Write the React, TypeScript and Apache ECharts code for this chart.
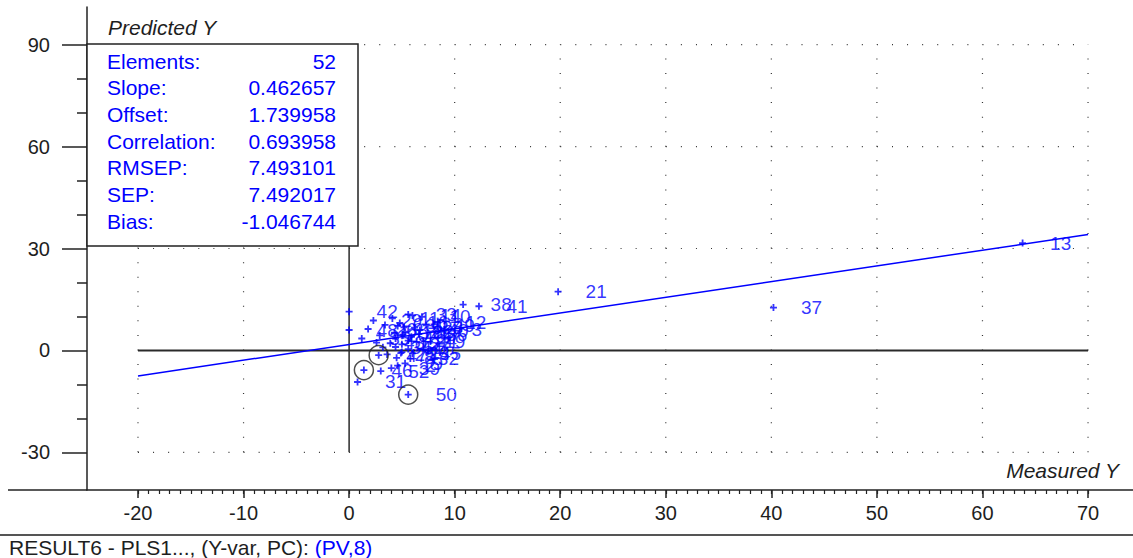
import React, { useEffect, useRef } from "react";
import * as echarts from "echarts";

const FONT = "'Liberation Sans', Arial, sans-serif";
const BLUE = "#0000ff";
const INK = "#1e1e1e";

// Sample numbers with measured / predicted values
const SAMPLE_IDS = [
  1, 2, 3, 4, 5, 6, 7, 8, 9, 10, 11, 12, 13, 14, 15, 16, 17, 18, 19, 20, 21, 22, 23, 24, 25, 26,
  27, 28, 29, 30, 31, 32, 33, 34, 35, 36, 37, 38, 39, 40, 41, 42, 43, 44, 45, 46, 47, 48, 49, 50, 51, 52,
];
const MEASURED = [
  5.0, 4.6, 9.0, 4.4, 5.2, 3.4, 5.6, 4.5, 5.3, 6.9, 4.1, 8.4, 63.8, 6.0, 3.9, 4.8, 5.9, 4.3, 6.4, 2.9,
  19.8, 5.3, 4.9, 5.6, 3.6, 1.8, 5.0, 6.2, 2.3, 4.6, 0.8, 5.8, 5.6, 3.2, 1.2, 6.6, 40.2, 10.8, 4.0, 6.7,
  12.3, 0.0, 2.6, 5.1, 6.0, 1.4, 2.8, 0.0, 7.3, 5.6, 4.4, 3.0,
];
const PREDICTED = [
  -0.5, -4.5, 6.2, 3.5, 6.8, 7.5, 0.4, -2.2, -3.8, 9.9, 9.4, 8.2, 31.6, 10.3, 2.1, 8.1, 4.0, 5.2, 2.5, 4.4,
  17.3, 5.5, -0.8, 2.9, -1.2, 6.3, 1.8, 6.7, 8.8, 7.2, -9.3, -2.4, 10.6, 0.9, 3.5, 4.8, 12.6, 13.5, -5.2, 6.0,
  13.0, 11.4, 2.3, 4.6, -0.9, -5.8, -1.4, 6.0, 7.4, -13.0, 1.0, -6.1,
];
const CIRCLED_IDS = [46, 47, 50];

// Regression summary
const SLOPE = 0.462657;
const OFFSET = 1.739958;
const STAT_NAMES = ["Elements:", "Slope:", "Offset:", "Correlation:", "RMSEP:", "SEP:", "Bias:"];
const STAT_VALUES = ["52", "0.462657", "1.739958", "0.693958", "7.493101", "7.492017", "-1.046744"];

// Axis ticks and reference lines
const X_LABELS = [-20, -10, 0, 10, 20, 30, 40, 50, 60, 70];
const Y_LABELS = [-30, 0, 30, 60, 90];
const Y_MINOR = [-20, -10, 10, 20, 40, 50, 70, 80];
const X_GRID = [-20, -10, 10, 20, 30, 40, 50, 60, 70];
const Y_GRID = [-30, 30, 60, 90];
const X_MIN = -24.83;
const X_MAX = 74.26;
const Y_MIN = -41.1;
const Y_MAX = 101.1;

const PLUS = "path://M2.6,0H4.4V2.6H7V4.4H4.4V7H2.6V4.4H0V2.6H2.6Z";

function App() {
  const ref = useRef<HTMLDivElement>(null);

  useEffect(() => {
    if (!ref.current) return;
    const chart = echarts.init(ref.current, null, { renderer: "svg" });

    const xMinor: number[] = [];
    for (let v = X_LABELS[0]; v <= X_LABELS[X_LABELS.length - 1]; v++) xMinor.push(v);

    const points = SAMPLE_IDS.map((id, i) => ({ name: String(id), value: [MEASURED[i], PREDICTED[i]] }));
    const circled = CIRCLED_IDS.map((id) => {
      const i = SAMPLE_IDS.indexOf(id);
      return [MEASURED[i], PREDICTED[i]];
    });

    const gx0 = X_LABELS[0];
    const gx1 = X_LABELS[X_LABELS.length - 1];
    const gy0 = Y_LABELS[0];
    const gy1 = Y_LABELS[Y_LABELS.length - 1];

    const dotted = (data: number[][], gap: number) => ({
      type: "line",
      data,
      symbol: "none",
      silent: true,
      z: 1,
      lineStyle: { color: "#333", width: 1.2, type: [1, gap], cap: "butt" },
    });

    const series: any[] = [];
    X_GRID.forEach((x) => series.push(dotted([[x, gy0], [x, gy1]], 13.55)));
    Y_GRID.forEach((y) => series.push(dotted([[gx0, y], [gx1, y]], 14.08)));
    series.push({
      type: "line",
      data: [[gx0, 0], [gx1, 0]],
      symbol: "none",
      silent: true,
      z: 2,
      lineStyle: { color: "#2a2a2a", width: 2 },
    });
    series.push({
      type: "line",
      data: [[0, gy0], [0, gy1]],
      symbol: "none",
      silent: true,
      z: 2,
      lineStyle: { color: "#2a2a2a", width: 1.5 },
    });
    series.push({
      type: "line",
      data: [
        [gx0, OFFSET + SLOPE * gx0],
        [gx1, OFFSET + SLOPE * gx1],
      ],
      symbol: "none",
      silent: true,
      z: 3,
      lineStyle: { color: BLUE, width: 1.5 },
    });
    series.push({
      type: "scatter",
      data: points,
      symbol: PLUS,
      symbolSize: 7,
      z: 4,
      itemStyle: { color: BLUE },
      label: {
        show: true,
        position: "right",
        distance: 24,
        formatter: (p: any) => p.name,
        color: BLUE,
        fontSize: 19,
        fontFamily: FONT,
      },
      labelLayout: { hideOverlap: false },
    });
    series.push({
      type: "scatter",
      data: circled,
      symbol: "circle",
      symbolSize: 19,
      z: 5,
      itemStyle: { color: "rgba(0,0,0,0)", borderColor: "#222", borderWidth: 1.5 },
    });

    const axisText = { color: INK, fontSize: 20, fontFamily: FONT };
    const axisLineStyle = { color: "#222", width: 1.5 };

    const textStyle = (text: string, x: number, y: number, opts: any = {}) => ({
      type: "text",
      z: 101,
      silent: true,
      style: {
        text,
        x,
        y,
        fill: opts.fill || INK,
        font: `${opts.italic ? "italic " : ""}${opts.size || 21}px ${FONT}`,
        textAlign: opts.align || "left",
        align: opts.align || "left",
        textVerticalAlign: "middle",
        verticalAlign: "middle",
      },
    });

    const rowY = (i: number) => 61 + i * 26.7;
    const statTexts: any[] = [];
    STAT_NAMES.forEach((n, i) => {
      statTexts.push(textStyle(n, 107, rowY(i), { fill: BLUE }));
      statTexts.push(textStyle(STAT_VALUES[i], 336, rowY(i), { fill: BLUE, align: "right" }));
    });

    chart.setOption({
      animation: false,
      backgroundColor: "#ffffff",
      grid: { left: 87, top: 7, width: 1046, height: 483, containLabel: false },
      xAxis: [
        {
          type: "value",
          min: X_MIN,
          max: X_MAX,
          position: "bottom",
          axisLine: { show: true, onZero: false, lineStyle: axisLineStyle },
          axisTick: { show: true, customValues: X_LABELS, length: 8, lineStyle: { color: "#222", width: 1.5 } },
          axisLabel: { show: true, customValues: X_LABELS, margin: 13, ...axisText },
          splitLine: { show: false },
        },
        {
          type: "value",
          min: X_MIN,
          max: X_MAX,
          position: "bottom",
          axisLine: { show: false, onZero: false },
          axisTick: { show: true, customValues: xMinor, length: 4, lineStyle: { color: "#222", width: 1.2 } },
          axisLabel: { show: false },
          splitLine: { show: false },
        },
      ],
      yAxis: [
        {
          type: "value",
          min: Y_MIN,
          max: Y_MAX,
          position: "left",
          axisLine: { show: true, onZero: false, lineStyle: axisLineStyle },
          axisTick: { show: true, customValues: Y_LABELS, length: 25, lineStyle: { color: "#222", width: 1.5 } },
          axisLabel: { show: true, customValues: Y_LABELS, margin: 37, ...axisText },
          splitLine: { show: false },
        },
        {
          type: "value",
          min: Y_MIN,
          max: Y_MAX,
          position: "left",
          axisLine: { show: false, onZero: false },
          axisTick: { show: true, customValues: Y_MINOR, length: 10, lineStyle: { color: "#222", width: 1.5 } },
          axisLabel: { show: false },
          splitLine: { show: false },
        },
      ],
      series,
      graphic: [
        {
          type: "rect",
          z: 100,
          silent: true,
          shape: { x: 87, y: 44, width: 271, height: 202 },
          style: { fill: "#ffffff", stroke: "#222", lineWidth: 1.5 },
        },
        ...statTexts,
        textStyle("Predicted Y", 108, 27, { italic: true }),
        textStyle("Measured Y", 1119, 470, { italic: true, align: "right" }),
        {
          type: "line",
          z: 100,
          silent: true,
          shape: { x1: 8, y1: 490, x2: 87, y2: 490 },
          style: { stroke: "#222", lineWidth: 1.5 },
        },
        {
          type: "line",
          z: 100,
          silent: true,
          shape: { x1: 0, y1: 535, x2: 1133, y2: 535 },
          style: { stroke: "#555", lineWidth: 2 },
        },
        {
          type: "text",
          z: 101,
          silent: true,
          style: {
            text: "{a|RESULT6 - PLS1..., (Y-var, PC): }{b|(PV,8)}",
            x: 9,
            y: 547,
            font: `21px ${FONT}`,
            lineHeight: 20,
            textVerticalAlign: "middle",
            verticalAlign: "middle",
            rich: {
              a: { fill: INK, font: `21px ${FONT}`, lineHeight: 20 },
              b: { fill: BLUE, font: `21px ${FONT}`, lineHeight: 20 },
            },
          },
        },
      ],
    });

    return () => chart.dispose();
  }, []);

  return (
    <div
      ref={ref}
      style={{ position: "fixed", left: 0, top: 0, width: 1133, height: 558, background: "#fff" }}
    />
  );
}

export default App;
